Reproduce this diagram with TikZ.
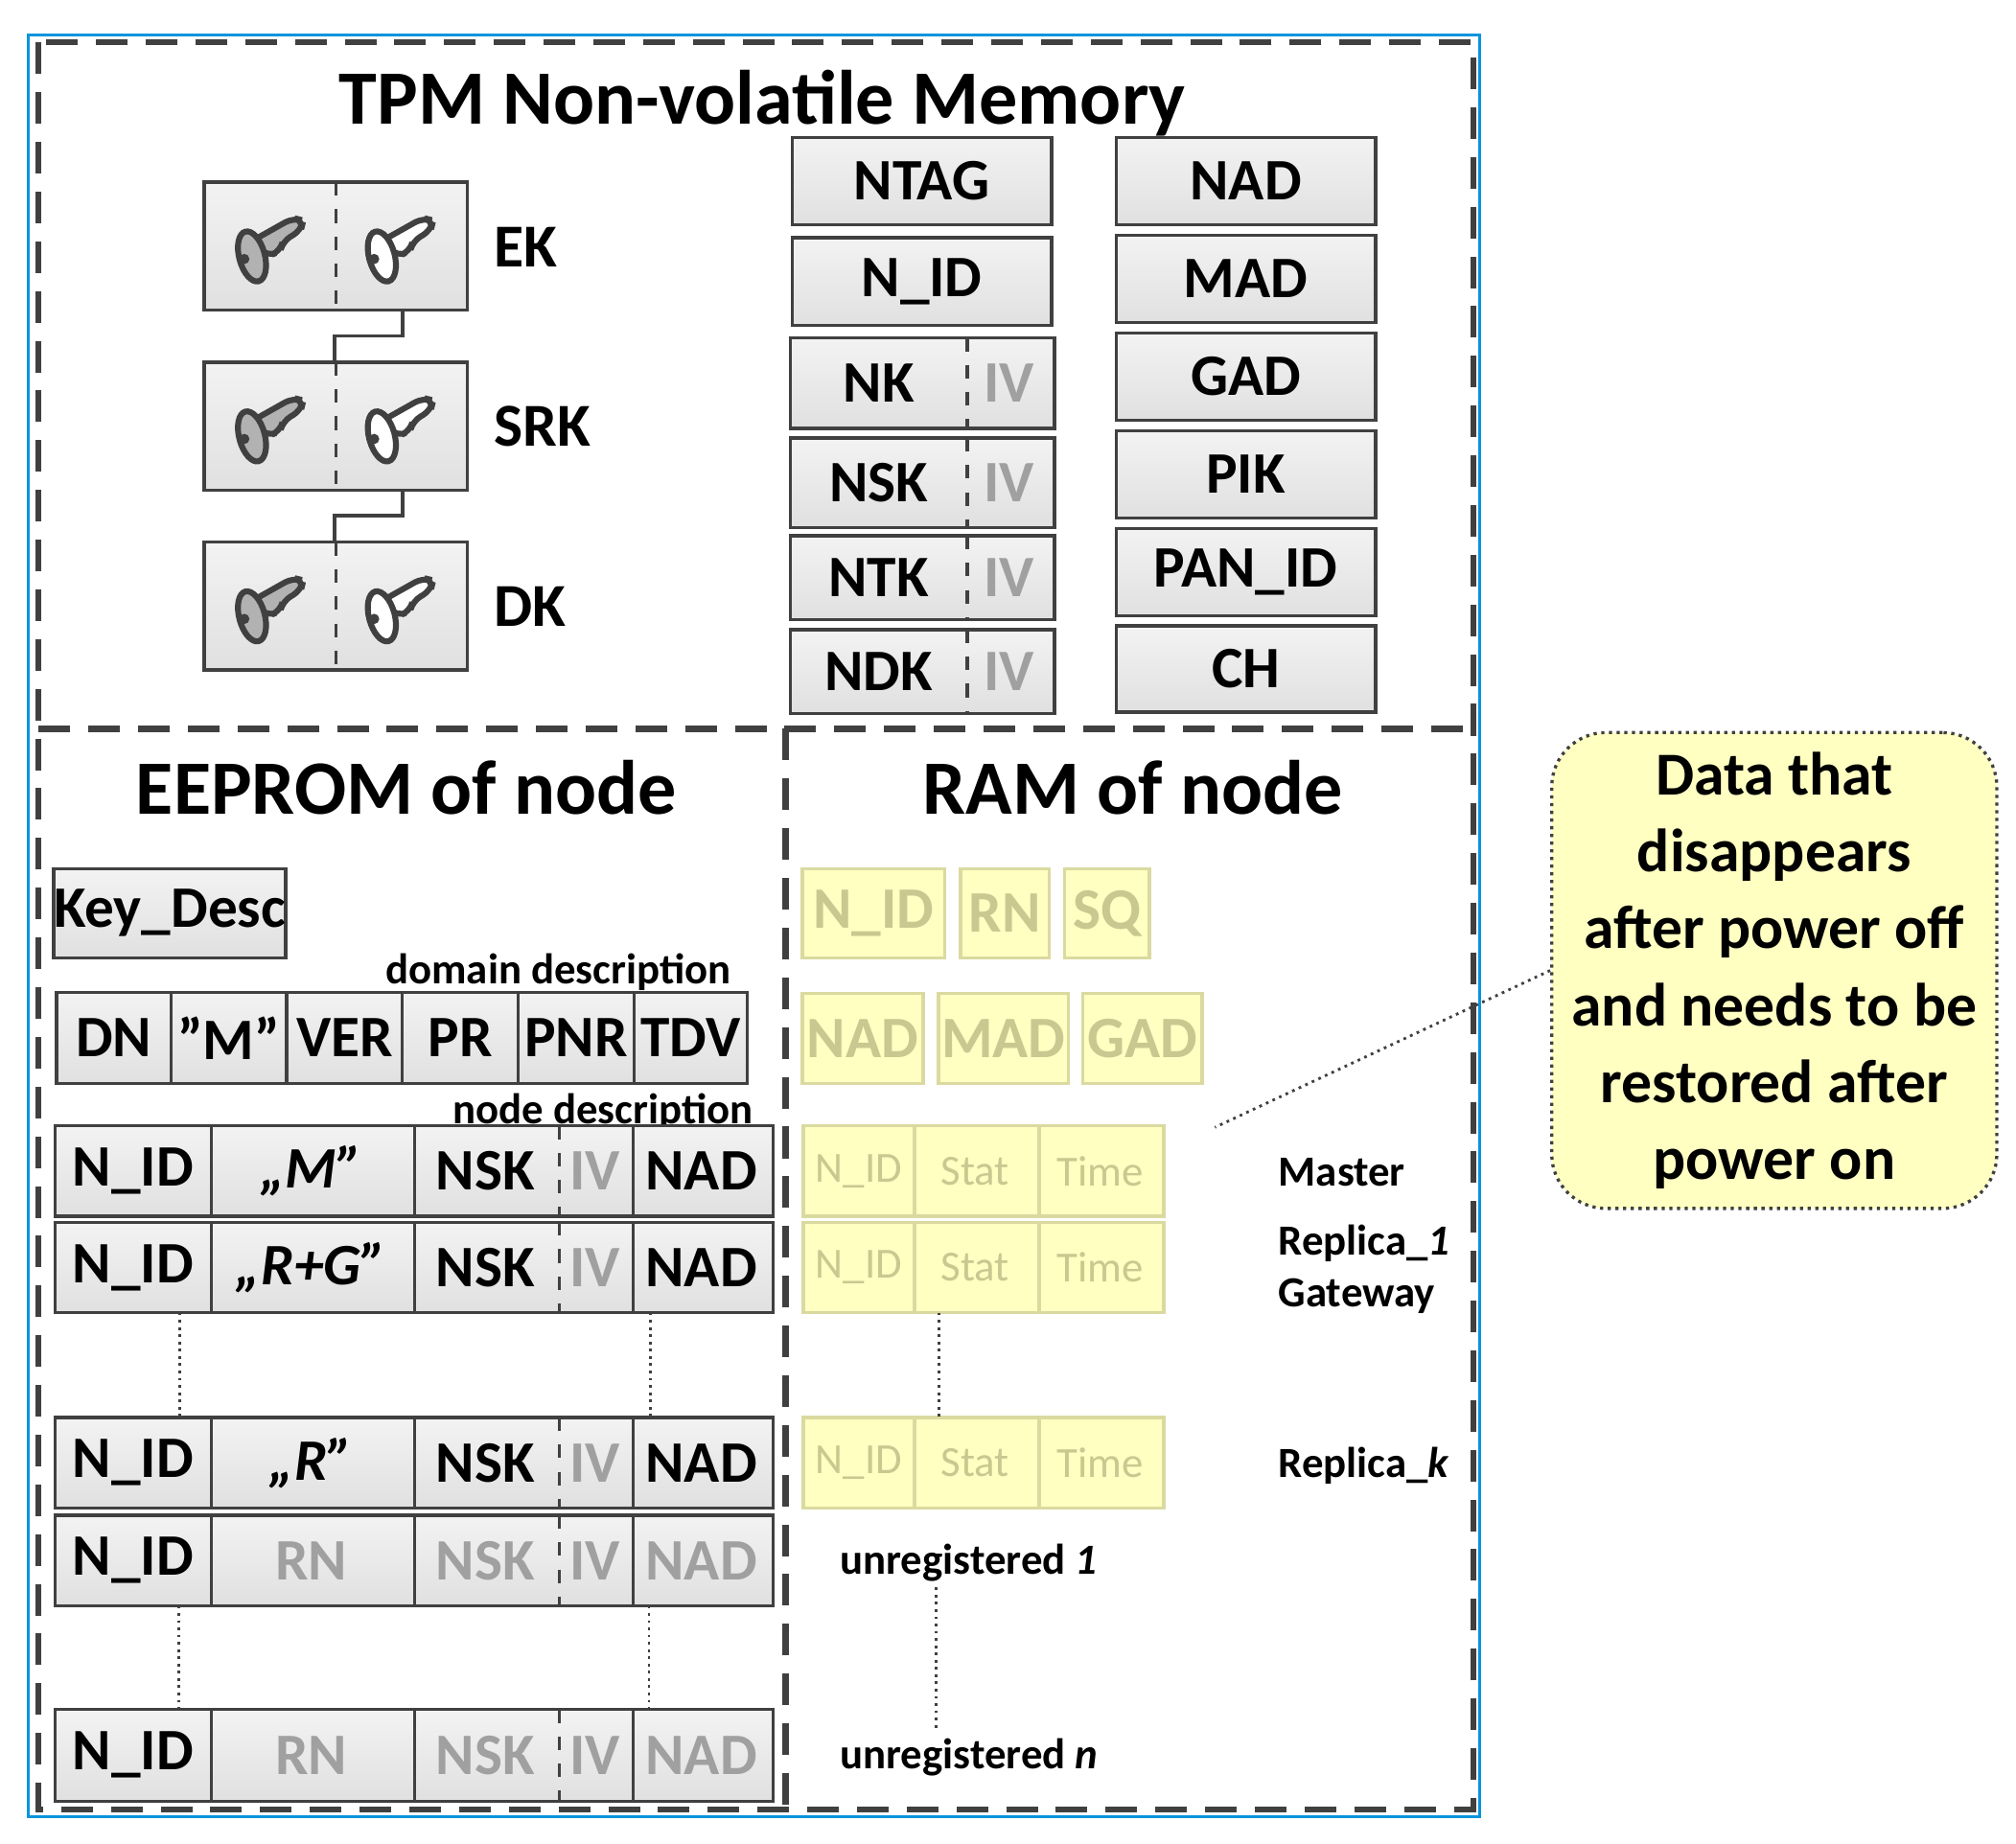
\documentclass[tikz,border=0pt]{standalone}
\usepackage{fontspec}
\setmainfont{Carlito}
\usetikzlibrary{calc}
\definecolor{frame}{HTML}{404040}
\definecolor{ylw}{HTML}{FFFFC2}
\definecolor{ylwline}{HTML}{DADAA0}
\definecolor{ylwtext}{HTML}{C8C890}
\definecolor{gtext}{HTML}{A0A0A0}
\newcommand\cellbox[7][]{%
  \pgfmathsetmacro\cw{(#5-#3)*0.01}\pgfmathsetmacro\ch{(#6-#4)*0.01}%
  \node[box,#1,minimum width=\cw cm,minimum height=\ch cm] (#2) at ({(#3+#5)/2},{(#4+#6)/2}) {#7};}
\newcommand\keypic[2]{%
  \begin{scope}[shift={(#1)}]
    \draw[frame,line width=1.3pt,fill=#2,rounded corners=2pt]
      (-14,-4) -- (18,-22) -- (26,-20) -- (24,-12) -- (10,-4) -- (8,4) -- (-2,8) -- cycle;
    \draw[frame,line width=1.3pt,fill=#2,rotate around={15:(-14,8)}] (-14,8) ellipse (10 and 20);
    \fill[frame] (-20,10) circle (4);
  \end{scope}}
\begin{document}
\begin{tikzpicture}[x=0.01cm,y=-0.01cm,
  box/.style={draw=frame,line width=0.7pt,top color=black!5,bottom color=black!12,inner sep=0pt,
    font=\bfseries\fontsize{13pt}{15pt}\selectfont},
  cell/.style={box,draw=none},
  ybox/.style={box,draw=ylwline,top color=ylw,bottom color=ylw,text=ylwtext},
  ycell/.style={ybox,draw=none,font=\fontsize{9.5pt}{11pt}\selectfont},
  grey/.style={text=gtext},
  lbl/.style={font=\bfseries\fontsize{13.5pt}{16pt}\selectfont,anchor=west},
  small/.style={font=\bfseries\fontsize{9.5pt}{11pt}\selectfont},
  title/.style={font=\bfseries\fontsize{17pt}{20pt}\selectfont},
  dsh/.style={dashed,frame,line width=0.7pt},
  dots/.style={densely dotted,frame,line width=0.6pt}]
\useasboundingbox (0,0) rectangle (1568,1434);
% frames
\draw[cyan!80!blue,line width=0.6pt] (22,27) rectangle (1151,1413);
\draw[frame,line width=1.3pt,dash pattern=on 7pt off 4pt] (30,33) rectangle (1146,1408)
  (30,567) -- (1146,567) (611,567) -- (611,1408);
\node[title] (t1) at (593,80) {TPM Non-volatile Memory};
\node[title] (t2) at (316,613) {EEPROM of node};
\node[title] (t3) at (881,613) {RAM of node};
% key boxes
\foreach \n/\y/\l in {ek/143/EK,srk/283/SRK,dk/423/DK}{
  \pgfmathsetmacro\yb{\y+97}
  \cellbox[cell]{\n a}{160}{\y}{260}{\yb}{}
  \cellbox[cell]{\n b}{260}{\y}{362}{\yb}{}
  \draw[frame,line width=0.7pt] (\n a.north west) rectangle (\n b.south east);
  \draw[dsh] (\n a.north east) -- (\n a.south east);
  \keypic{\n a}{black!30}
  \keypic{\n b}{white}
  \node[lbl] (\n l) at (372,{\y+49}) {\l};
}
\draw[frame,line width=0.7pt] ($(eka.south east)+(52,0)$) |- ++(-53,20) coordinate (c1) -- (c1 |- srka.north east);
\draw[frame,line width=0.7pt] ($(srka.south east)+(52,0)$) |- ++(-53,20) coordinate (c2) -- (c2 |- dka.north east);
% TPM middle column
\cellbox{ntag}{616}{107}{818}{175}{NTAG}
\cellbox{nid}{616}{185}{818}{253}{N\_ID}
\foreach \n/\t/\y/\yb in {nk/NK/264/332,nsk/NSK/342/409,ntk/NTK/418/481,ndk/NDK/491/554}{
  \cellbox[cell]{\n}{616}{\y}{751}{\yb}{\t}
  \cellbox[cell,grey]{\n iv}{751}{\y}{819}{\yb}{IV}
  \draw[frame,line width=0.7pt] (\n.north west) rectangle (\n iv.south east);
  \draw[dsh] (\n.north east) -- (\n.south east);
}
% TPM right column
\foreach \n/\t/\y/\yb in {nad/NAD/107/175,mad/MAD/183/251,gad/GAD/259/327,pik/PIK/335/403,pan/PAN\_ID/411/479,ch/CH/487/554}{
  \cellbox{\n}{868}{\y}{1070}{\yb}{\t}
}
% EEPROM
\cellbox{kd}{44}{676}{220}{745}{Key\_Desc}
\node[small,anchor=east] (dd) at (581,756) {domain description};
\foreach \n/\t/\xa/\xb in {d1/DN/44/133,d2/{”M”}/133/223,d3/VER/223/313,d4/PR/313/403,d5/PNR/403/493,d6/TDV/493/581}{
  \cellbox{\n}{\xa}{772}{\xb}{843}{\t}
}
\node[small,anchor=east] (nd) at (598,865) {node description};
\foreach \r/\y/\yb/\m/\g in {r1/877/945/{\itshape „M”}/,r2/952/1020/{\itshape „R+G”}/,r3/1104/1172/{\itshape „R”}/,r4/1180/1248/RN/grey,r5/1331/1400/RN/grey}{
  \cellbox[cell]{\r a}{44}{\y}{163}{\yb}{N\_ID}
  \cellbox[cell,\g]{\r b}{163}{\y}{321}{\yb}{\m}
  \cellbox[cell,\g]{\r c}{321}{\y}{434}{\yb}{NSK}
  \cellbox[cell,grey]{\r d}{434}{\y}{491}{\yb}{IV}
  \cellbox[cell,\g]{\r e}{491}{\y}{600}{\yb}{NAD}
  \draw[frame,line width=0.7pt] (\r a.north west) rectangle (\r e.south east)
    (\r a.north east) -- (\r a.south east) (\r b.north east) -- (\r b.south east)
    (\r d.north east) -- (\r d.south east);
  \draw[dsh] (\r c.north east) -- (\r c.south east);
}
\draw[dots] ($(r2a.south west)+(97,0)$) -- ($(r3a.north west)+(97,0)$);
\draw[dots] ($(r2e.south west)+(16,0)$) -- ($(r3e.north west)+(16,0)$);
\draw[dots] ($(r4a.south west)+(96,0)$) -- ($(r5a.north west)+(96,0)$);
\draw[dots] ($(r4e.south west)+(15,0)$) -- ($(r5e.north west)+(15,0)$);
% RAM
\cellbox[ybox]{y1}{624}{676}{735}{745}{N\_ID}
\cellbox[ybox]{y2}{747}{676}{816}{745}{RN}
\cellbox[ybox]{y3}{828}{676}{894}{745}{SQ}
\cellbox[ybox]{y4}{624}{773}{718}{843}{NAD}
\cellbox[ybox]{y5}{730}{773}{831}{843}{MAD}
\cellbox[ybox]{y6}{842}{773}{935}{843}{GAD}
\foreach \r/\y/\yb in {m1/877/945,m2/952/1020,m3/1104/1172}{
  \cellbox[ycell]{\r a}{626}{\y}{710}{\yb}{N\_ID}
  \cellbox[ycell]{\r b}{710}{\y}{807}{\yb}{Stat}
  \cellbox[ycell]{\r c}{807}{\y}{904}{\yb}{Time}
  \draw[ylwline,line width=0.7pt] (\r a.north west) rectangle (\r c.south east)
    (\r a.north east) -- (\r a.south east) (\r b.north east) -- (\r b.south east);
}
\draw[dots] ($(m2a.south east)+(19,0)$) -- ($(m3a.north east)+(19,0)$);
\node[small,anchor=west] (lm) at (982,912) {Master};
\node[small,anchor=west] (lr1) at (982,967) {Replica\_\textit{1}};
\node[small,anchor=west] (lg) at (982,1008) {Gateway};
\node[small,anchor=west] (lrk) at (982,1140) {Replica\_\textit{k}};
\node[small,anchor=west] (u1) at (641,1216) {unregistered \textit{1}};
\node[small,anchor=west] (un) at (641,1367) {unregistered \textit{n}};
\draw[dots] (728,1235) -- (728,1345);
% callout
\node[draw=frame,densely dotted,line width=0.7pt,fill=ylw,rounded corners=12pt,
  minimum width=3.46cm,minimum height=3.7cm,align=center,
  font=\bfseries\fontsize{13.5pt}{17pt}\selectfont] (co) at (1380,755)
  {Data that\\disappears\\after power off\\and needs to be\\restored after\\power on};
\coordinate (cp) at (945,877);
\draw[dots] (co.west) -- (cp);
\end{tikzpicture}
\end{document}
